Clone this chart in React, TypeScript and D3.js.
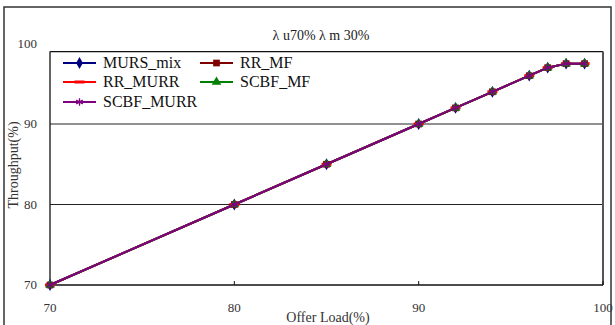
import React from 'react';
import * as d3 from 'd3';

// Offered load (%) on x, throughput (%) on y
const loads = [70, 80, 85, 90, 92, 94, 96, 97, 98, 99];
const mursMix = [70, 80, 85, 90, 92, 94, 96, 97, 97.5, 97.5];
const rrMf = [70, 80, 85, 90, 92, 94, 96, 97, 97.5, 97.5];
const rrMurr = [70, 80, 85, 90, 92, 94, 96, 97, 97.5, 97.5];
const scbfMf = [70, 80, 85, 90, 92, 94, 96, 97, 97.5, 97.5];
const scbfMurr = [70, 80, 85, 90, 92, 94, 96, 97, 97.5, 97.5];

const xTicks = [70, 80, 90, 100];
const yTicks = [70, 80, 90, 100];

const series = [
  { name: 'MURS_mix', values: mursMix, color: '#000080', marker: 'diamond' },
  { name: 'RR_MF', values: rrMf, color: '#800000', marker: 'square' },
  { name: 'RR_MURR', values: rrMurr, color: '#ff0000', marker: 'dash' },
  { name: 'SCBF_MF', values: scbfMf, color: '#008000', marker: 'triangle' },
  { name: 'SCBF_MURR', values: scbfMurr, color: '#800080', marker: 'asterisk' },
];

const W = 615;
const H = 325;
const font = 'Liberation Serif, serif';

const x = d3.scaleLinear().domain([70, 100]).range([50, 603]);
const y = d3.scaleLinear().domain([70, 100]).range([285, 43.5]);
const frameTop = y(99);

const Marker: React.FC<{ kind: string; color: string; cx: number; cy: number }> = ({ kind, color, cx, cy }) => {
  const t = `translate(${cx},${cy})`;
  if (kind === 'dash') {
    return <rect x={cx - 5} y={cy - 1.5} width={10} height={3} fill={color} />;
  }
  if (kind === 'asterisk') {
    const d = d3.symbol(d3.symbolAsterisk, 40)() || '';
    return <path d={d} transform={t} fill="none" stroke={color} strokeWidth={1.3} />;
  }
  const type =
    kind === 'diamond' ? d3.symbolDiamond : kind === 'square' ? d3.symbolSquare : d3.symbolTriangle;
  const size = kind === 'diamond' ? 40 : kind === 'square' ? 45 : 40;
  const d = d3.symbol(type, size)() || '';
  return <path d={d} transform={t} fill={color} />;
};

export default function App() {
  const line = d3
    .line<number>()
    .x((_, i) => x(loads[i]))
    .y((v) => y(v));

  const legendPos = [
    { lx: 63, ly: 63 },
    { lx: 200, ly: 63 },
    { lx: 63, ly: 82 },
    { lx: 200, ly: 82 },
    { lx: 63, ly: 102 },
  ];

  return (
    <svg
      width={W}
      height={H}
      style={{ position: 'absolute', left: 0, top: 0, background: '#fff', fontFamily: font }}
    >
      <rect x={4} y={7} width={607} height={330} fill="#fff" stroke="#333" strokeWidth={1.5} />

      <text x={321} y={40} textAnchor="middle" fontSize={14} fill="#222" style={{ fontFamily: font }}>
        λ u70%  λ m 30%
      </text>

      {/* gridlines */}
      {yTicks
        .filter((t) => t > 70 && t < 100)
        .map((t) => (
          <line key={t} x1={x(70)} x2={x(100)} y1={y(t)} y2={y(t)} stroke="#222" strokeWidth={1} />
        ))}

      {/* frame */}
      <line x1={x(70)} x2={x(100)} y1={frameTop} y2={frameTop} stroke="#111" strokeWidth={1.3} />
      <line x1={x(100)} x2={x(100)} y1={frameTop} y2={y(70)} stroke="#555" strokeWidth={2} />
      <line x1={x(70)} x2={x(70)} y1={frameTop} y2={y(70)} stroke="#111" strokeWidth={1.3} />
      <line x1={x(70)} x2={x(100)} y1={y(70)} y2={y(70)} stroke="#111" strokeWidth={1.5} />

      {/* x ticks */}
      {xTicks.map((t) => (
        <g key={t}>
          <line x1={x(t)} x2={x(t)} y1={y(70)} y2={y(70) - 4} stroke="#111" />
          <text x={x(t)} y={312} textAnchor="middle" fontSize={13} fill="#333" style={{ fontFamily: font }}>
            {t}
          </text>
        </g>
      ))}
      <text x={328} y={322} textAnchor="middle" fontSize={14} fill="#333" style={{ fontFamily: font }}>
        Offer Load(%)
      </text>

      {/* y ticks */}
      {yTicks.map((t) => (
        <text key={t} x={37} y={y(t) + 4} textAnchor="end" fontSize={13} fill="#333" style={{ fontFamily: font }}>
          {t}
        </text>
      ))}
      <text
        transform={`translate(18,165) rotate(-90)`}
        textAnchor="middle"
        fontSize={14}
        fill="#333"
        style={{ fontFamily: font }}
      >
        Throughput(%)
      </text>

      {/* series */}
      {series.map((s) => (
        <g key={s.name}>
          <path d={line(s.values) || ''} fill="none" stroke={s.color} strokeWidth={2} />
          {s.values.map((v, i) => (
            <Marker key={i} kind={s.marker} color={s.color} cx={x(loads[i])} cy={y(v)} />
          ))}
        </g>
      ))}

      {/* legend */}
      {series.map((s, i) => {
        const { lx, ly } = legendPos[i];
        return (
          <g key={s.name}>
            <line x1={lx} x2={lx + 33} y1={ly} y2={ly} stroke={s.color} strokeWidth={2} />
            <Marker kind={s.marker} color={s.color} cx={lx + 16.5} cy={ly} />
            <text x={lx + 40} y={ly + 5} fontSize={16} fill="#111" style={{ fontFamily: font }}>
              {s.name}
            </text>
          </g>
        );
      })}
    </svg>
  );
}
